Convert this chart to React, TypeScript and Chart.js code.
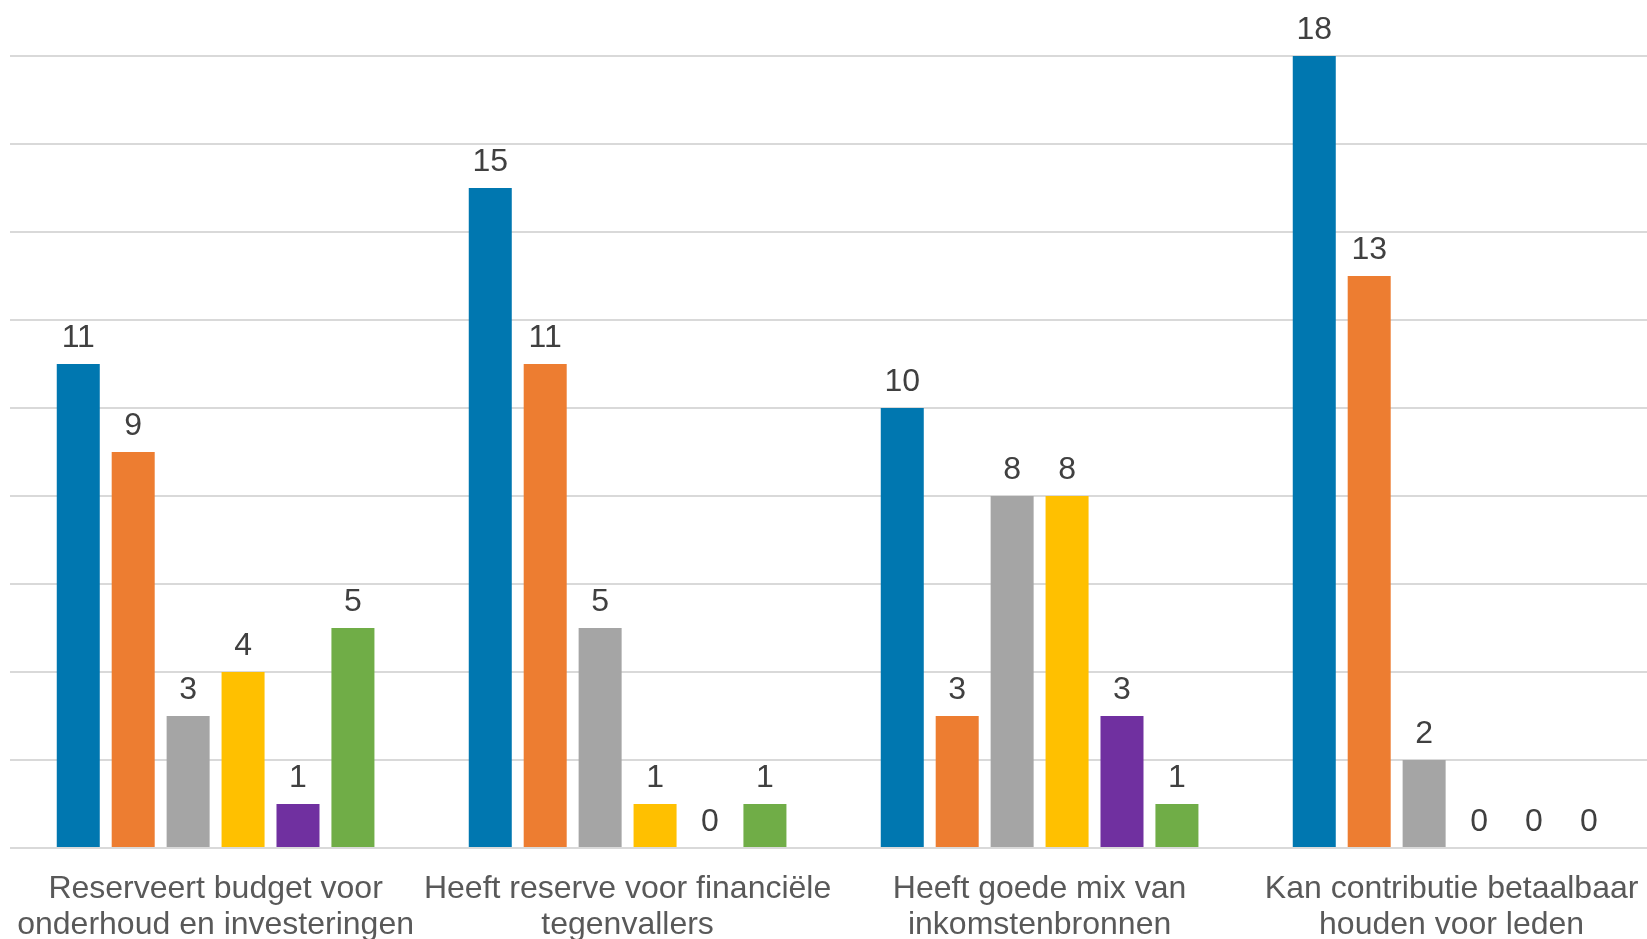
import React, { useEffect, useRef } from "react";
import { Chart, registerables } from "chart.js";

Chart.register(...registerables);

const categories: string[][] = [
  ["Reserveert budget voor", "onderhoud en investeringen"],
  ["Heeft reserve voor financiële", "tegenvallers"],
  ["Heeft goede mix van", "inkomstenbronnen"],
  ["Kan contributie betaalbaar", "houden voor leden"],
];

const seriesNames = ["Helemaal eens", "Eens", "Neutraal", "Oneens", "Helemaal oneens", "Weet niet"];
const seriesColors = ["#0077B0", "#ED7D31", "#A5A5A5", "#FFC000", "#7030A0", "#70AD47"];

const blueValues = [11, 15, 10, 18];
const orangeValues = [9, 11, 3, 13];
const grayValues = [3, 5, 8, 2];
const yellowValues = [4, 1, 8, 0];
const purpleValues = [1, 0, 3, 0];
const greenValues = [5, 1, 1, 0];

const seriesValues = [blueValues, orangeValues, grayValues, yellowValues, purpleValues, greenValues];

const yMin = 0;
const yMax = 18;
const yStep = 2;

const FONT = '"Liberation Sans", Arial, sans-serif';

const valueLabelPlugin = {
  id: "valueLabels",
  afterDatasetsDraw(chart: any) {
    const ctx = chart.ctx;
    ctx.save();
    ctx.font = `32px ${FONT}`;
    ctx.fillStyle = "#404040";
    ctx.textAlign = "center";
    ctx.textBaseline = "alphabetic";
    chart.data.datasets.forEach((ds: any, i: number) => {
      const meta = chart.getDatasetMeta(i);
      meta.data.forEach((bar: any, j: number) => {
        const v = ds.data[j];
        ctx.fillText(String(v), bar.x, bar.y - 17);
      });
    });
    ctx.restore();
  },
};

export default function App() {
  const canvasRef = useRef<HTMLCanvasElement | null>(null);

  useEffect(() => {
    if (!canvasRef.current) return;
    const chart = new Chart(canvasRef.current, {
      type: "bar",
      data: {
        labels: categories,
        datasets: seriesValues.map((vals, i) => ({
          label: seriesNames[i],
          data: vals,
          backgroundColor: seriesColors[i],
          borderWidth: 0,
          categoryPercentage: 0.8,
          barPercentage: 0.783,
        })),
      },
      options: {
        responsive: false,
        animation: false,
        devicePixelRatio: 1,
        layout: { padding: { left: 9.6, right: 2.4, top: 56, bottom: 0 } },
        plugins: {
          legend: { display: false },
          tooltip: { enabled: false },
        },
        scales: {
          x: {
            grid: { display: false, drawTicks: false },
            border: { display: false },
            ticks: {
              color: "#595959",
              font: { family: FONT, size: 32, lineHeight: 1.125 },
              padding: 23,
              maxRotation: 0,
              autoSkip: false,
            },
            afterFit: (s: any) => {
              s.height = 91;
              s.paddingLeft = 0;
              s.paddingRight = 0;
            },
          },
          y: {
            min: yMin,
            max: yMax,
            ticks: { stepSize: yStep, display: false },
            grid: { color: "#d9d9d9", lineWidth: 2, drawTicks: false },
            border: { display: false },
            afterFit: (s: any) => {
              s.width = 0;
              s.paddingTop = 0;
              s.paddingBottom = 0;
            },
          },
        },
      },
      plugins: [valueLabelPlugin],
    } as any);
    return () => chart.destroy();
  }, []);

  return (
    <div
      style={{
        position: "fixed",
        left: 0,
        top: 0,
        width: 1647,
        height: 939,
        overflow: "hidden",
        background: "#ffffff",
      }}
    >
      <canvas
        ref={canvasRef}
        width={1660}
        height={939}
        style={{ display: "block", width: 1660, height: 939 }}
      />
    </div>
  );
}
